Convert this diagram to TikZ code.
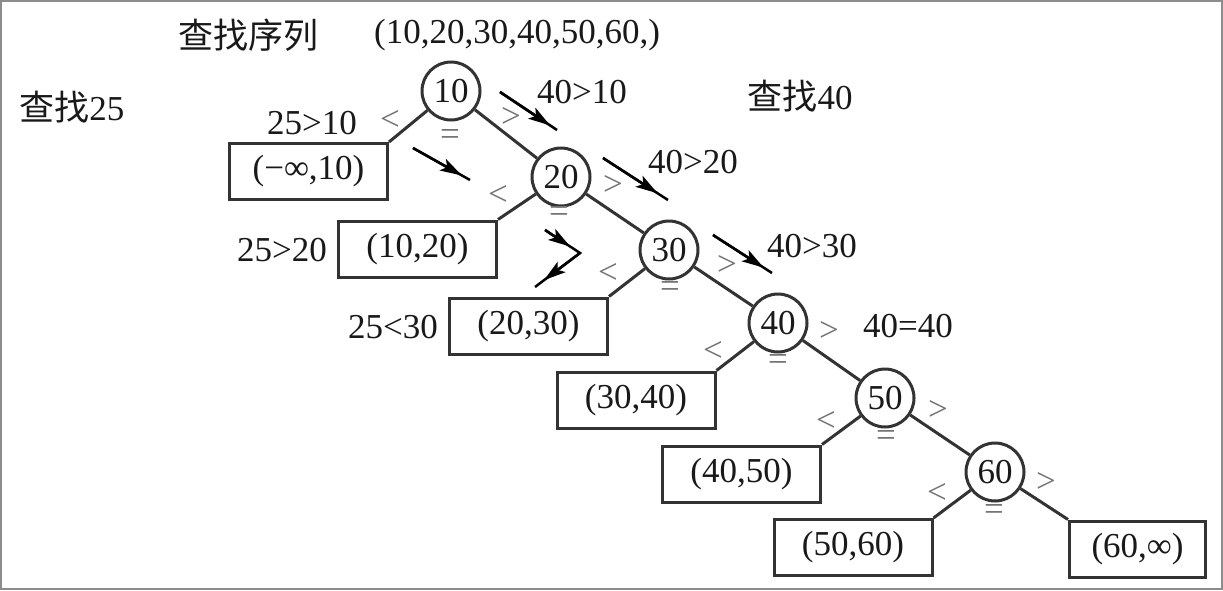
\documentclass[tikz,border=0pt]{standalone}
\usepackage{fontspec}
\setmainfont{Liberation Serif}
\newfontfamily\cjk{Noto Sans CJK SC}
\usetikzlibrary{arrows.meta,calc}
\begin{document}
\begin{tikzpicture}[x=1pt,y=-1pt,
  every node/.style={font=\fontsize{35}{40}\selectfont, text=black!90, inner sep=0pt},
  num/.style={draw=black!80, line width=3pt, circle, minimum size=58pt},
  leaf/.style={draw=black!80, line width=3pt, rectangle, minimum width=158pt, minimum height=56pt},
  edge/.style={draw=black!80, line width=3pt},
  sym/.style={text=black!55},
  hintline/.style={draw=black, line width=2.5pt},
  hinthead/.style={draw=black, line width=2.5pt, -{Stealth[length=22pt,width=13pt,inset=5pt]}}
]
\useasboundingbox (0,0) rectangle (1223,590);
\draw[black!45, line width=2pt] (1,1) rectangle (1222,589);

% titles
\node (t1) at (248,35) {\cjk 查找序列};
\node (t2) at (517,35) {(10,20,30,40,50,60,)};
\node (t3) at (72,107) {{\cjk 查找}25};
\node (t4) at (800,96) {{\cjk 查找}40};

% inner nodes
\node[num] (c10) at (451,91) {10};
\node[num] (c20) at (561,177) {20};
\node[num] (c30) at (669,250) {30};
\node[num] (c40) at (778,323) {40};
\node[num] (c50) at (885,398) {50};
\node[num] (c60) at (995,472) {60};

% leaves
\node[leaf] (b1) at (308.5,171.5) {(−∞,10)};
\node[leaf] (b2) at (417.5,249) {(10,20)};
\node[leaf] (b3) at (528.5,326) {(20,30)};
\node[leaf] (b4) at (636,400) {(30,40)};
\node[leaf] (b5) at (741.5,474) {(40,50)};
\node[leaf] (b6) at (853,547.5) {(50,60)};
\node[leaf, minimum width=136pt] (b7) at (1137.5,549) {(60,∞)};

% edges
\draw[edge] (c10) -- (c20);
\draw[edge] (c20) -- (c30);
\draw[edge] (c30) -- (c40);
\draw[edge] (c40) -- (c50);
\draw[edge] (c50) -- (c60);
\draw[edge] (c10) -- (b1.north east);
\draw[edge] (c20) -- (b2.north east);
\draw[edge] (c30) -- (b3.north east);
\draw[edge] (c40) -- (b4.north east);
\draw[edge] (c50) -- (b5.north east);
\draw[edge] (c60) -- (b6.north east);
\draw[edge] (c60) -- (b7.north west);

% comparison symbols
\node[sym] (l10) at (390,120) {<};
\node[sym] (r10) at (511,117) {>};
\node[sym] (e10) at (450,137) {=};
\node[sym] (l20) at (498,195) {<};
\node[sym] (r20) at (613,185) {>};
\node[sym] (e20) at (559,214) {=};
\node[sym] (l30) at (608,273) {<};
\node[sym] (r30) at (727,265) {>};
\node[sym] (e30) at (670,289) {=};
\node[sym] (l40) at (713,351) {<};
\node[sym] (r40) at (829,331) {>};
\node[sym] (e40) at (778,362) {=};
\node[sym] (l50) at (826,421) {<};
\node[sym] (r50) at (938,410) {>};
\node[sym] (e50) at (886,438) {=};
\node[sym] (l60) at (937,493) {<};
\node[sym] (r60) at (1046,482) {>};
\node[sym] (e60) at (994,512) {=};

% search labels
\node (s1) at (312,123) {25>10};
\node (s2) at (282,250) {25>20};
\node (s3) at (393,327) {25<30};
\node (f1) at (582,92) {40>10};
\node (f2) at (693,162) {40>20};
\node (f3) at (812,246) {40>30};
\node (f4) at (908,326) {40=40};

% hint arrows
\coordinate (a1s) at (413,148); \coordinate (a1e) at (470,180);
\coordinate (a2s) at (500,92);  \coordinate (a2e) at (557,130);
\coordinate (a3s) at (603,158); \coordinate (a3e) at (668,200);
\coordinate (a4s) at (713,235); \coordinate (a4e) at (772,273);
\coordinate (a5s) at (545,230); \coordinate (a5v) at (580,253); \coordinate (a5e) at (535,287);
\draw[hintline] (a1s) -- (a1e);
\draw[hinthead] (a1s) -- ($(a1s)!0.86!(a1e)$);
\draw[hintline] (a2s) -- (a2e);
\draw[hinthead] (a2s) -- ($(a2s)!0.88!(a2e)$);
\draw[hintline] (a3s) -- (a3e);
\draw[hinthead] (a3s) -- ($(a3s)!0.84!(a3e)$);
\draw[hintline] (a4s) -- (a4e);
\draw[hinthead] (a4s) -- ($(a4s)!0.86!(a4e)$);
\draw[hintline, line join=miter] (a5s) -- (a5v) -- (a5e);
\draw[hinthead] (a5s) -- ($(a5s)!0.72!(a5v)$);
\draw[hinthead] (a5v) -- ($(a5v)!0.8!(a5e)$);
\end{tikzpicture}
\end{document}
